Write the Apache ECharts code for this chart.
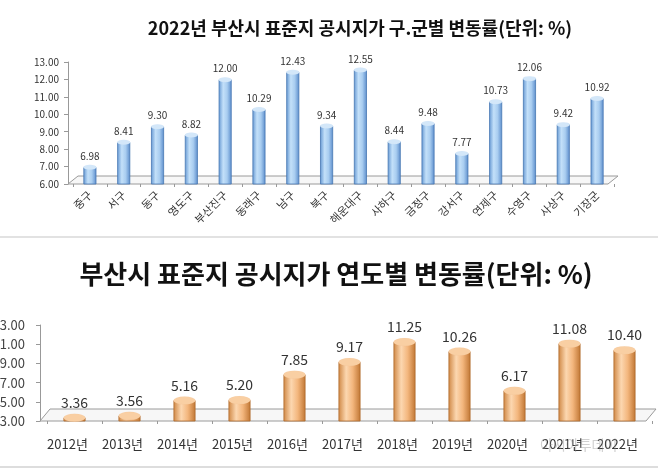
<!DOCTYPE html>
<html>
<head>
<meta charset="utf-8">
<script src="https://cdn.jsdelivr.net/npm/echarts@6/dist/echarts.min.js"></script>
<style>
  html, body { margin: 0; padding: 0; background: #fff; }
  #main { width: 658px; height: 470px; }
</style>
</head>
<body>
<div id="main"></div>
<script>
// 구.군별 변동률 (2022)
const districts = ['중구', '서구', '동구', '영도구', '부산진구', '동래구', '남구', '북구', '해운대구', '사하구', '금정구', '강서구', '연제구', '수영구', '사상구', '기장군'];
const districtRates = [6.98, 8.41, 9.30, 8.82, 12.00, 10.29, 12.43, 9.34, 12.55, 8.44, 9.48, 7.77, 10.73, 12.06, 9.42, 10.92];

// 연도별 변동률
const years = ['2012년', '2013년', '2014년', '2015년', '2016년', '2017년', '2018년', '2019년', '2020년', '2021년', '2022년'];
const yearRates = [3.36, 3.56, 5.16, 5.20, 7.85, 9.17, 11.25, 10.26, 6.17, 11.08, 10.40];

const FONT = 'Noto Sans CJK KR';

// grid boxes (px)
const g1 = { left: 73, top: 62, width: 541, height: 122 };
const g2 = { left: 47, top: 325, width: 605, height: 96 };

function cyl(c0, c1, c2, c3) {
  return new echarts.graphic.LinearGradient(0, 0, 1, 0, [
    { offset: 0, color: c0 },
    { offset: 0.35, color: c1 },
    { offset: 0.65, color: c2 },
    { offset: 1, color: c3 }
  ]);
}

// 3D floor outline under the bars
function floor(g, ox, dx, dy) {
  const x0 = g.left - ox, y0 = g.top + g.height;
  const x1 = g.left + g.width - 6;
  return {
    type: 'polyline',
    silent: true,
    z: 0,
    shape: { points: [[x0, y0], [x0 + dx, y0 - dy], [x1 + dx, y0 - dy], [x1, y0], [x0, y0]] },
    style: { stroke: '#9a9a9a', lineWidth: 1, fill: 'rgba(240,240,240,0.5)' }
  };
}

const chart = echarts.init(document.getElementById('main'));
chart.setOption({
  backgroundColor: '#fff',
  animation: false,
  textStyle: { fontFamily: FONT },
  title: [
    {
      text: '2022년 부산시 표준지 공시지가 구.군별 변동률(단위: %)',
      left: 355, top: 14, textAlign: 'center',
      textStyle: { fontSize: 18, fontWeight: 'bold', color: '#111', fontFamily: FONT }
    },
    {
      text: '부산시 표준지 공시지가 연도별 변동률(단위: %)',
      left: 331, top: 256, textAlign: 'center',
      textStyle: { fontSize: 26, fontWeight: 'bold', color: '#111', fontFamily: FONT }
    }
  ],
  grid: [
    Object.assign({ containLabel: false, outerBoundsMode: 'none' }, g1),
    Object.assign({ containLabel: false, outerBoundsMode: 'none' }, g2)
  ],
  xAxis: [
    {
      type: 'category', gridIndex: 0, data: districts,
      axisLine: { show: false },
      axisTick: { show: true, length: 3, lineStyle: { color: '#999' } },
      axisLabel: { rotate: 45, fontSize: 11, color: '#333', margin: 9, interval: 0 }
    },
    {
      type: 'category', gridIndex: 1, data: years,
      axisLine: { show: false },
      axisTick: { show: true, length: 3, lineStyle: { color: '#999' } },
      axisLabel: { fontSize: 13, color: '#333', margin: 17, interval: 0, padding: [0, 14, 0, 0] }
    }
  ],
  yAxis: [
    {
      type: 'value', gridIndex: 0, min: 6, max: 13, interval: 1, offset: 5,
      axisLine: { show: true, lineStyle: { color: '#999' } },
      axisTick: { show: true, length: 4, lineStyle: { color: '#999' } },
      splitLine: { show: false },
      axisLabel: { fontSize: 10, color: '#333', margin: 9, formatter: v => v.toFixed(2) }
    },
    {
      type: 'value', gridIndex: 1, min: 3, max: 13, interval: 2, offset: 7,
      axisLine: { show: true, lineStyle: { color: '#999' } },
      axisTick: { show: true, length: 4, lineStyle: { color: '#999' } },
      splitLine: { show: false },
      axisLabel: { fontSize: 13, color: '#444', margin: 15, formatter: v => v.toFixed(2) }
    }
  ],
  series: [
    {
      type: 'bar', xAxisIndex: 0, yAxisIndex: 0, data: districtRates, barWidth: 13, z: 3,
      itemStyle: { color: cyl('#6497d2', '#c3e0f9', '#a9cdf0', '#5a8ccb'), borderColor: '#4677b3', borderWidth: 0.8 },
      label: { show: true, position: 'top', distance: 6, fontSize: 10, color: '#333', formatter: p => p.value.toFixed(2) }
    },
    {
      type: 'pictorialBar', xAxisIndex: 0, yAxisIndex: 0, data: districtRates, z: 4,
      symbol: 'circle', symbolSize: [13, 5], symbolPosition: 'end', symbolOffset: [0, '-50%'],
      itemStyle: { color: '#d3e7f9', borderColor: '#4677b3', borderWidth: 0.8 }
    },
    {
      type: 'bar', xAxisIndex: 1, yAxisIndex: 1, data: yearRates, barWidth: 22, z: 3,
      itemStyle: { color: cyl('#cf8744', '#fcd7b0', '#f3b67d', '#c07633'), borderColor: '#b06a2c', borderWidth: 0.8 },
      label: { show: true, position: 'top', distance: 8, fontSize: 14, color: '#333', formatter: p => p.value.toFixed(2) }
    },
    {
      type: 'pictorialBar', xAxisIndex: 1, yAxisIndex: 1, data: yearRates, z: 4,
      symbol: 'circle', symbolSize: [22, 8], symbolPosition: 'end', symbolOffset: [0, '-50%'],
      itemStyle: { color: '#f9cfa3', borderColor: '#b06a2c', borderWidth: 0.8 }
    }
  ],
  graphic: [
    floor(g1, 5, 10, 8),
    floor(g2, 7, 10, 12),
    {
      type: 'line', silent: true,
      shape: { x1: 0, y1: 237, x2: 658, y2: 237 },
      style: { stroke: '#e2e2e2', lineWidth: 2 }
    },
    {
      type: 'line', silent: true,
      shape: { x1: 0, y1: 467, x2: 658, y2: 467 },
      style: { stroke: '#bbbbbb', lineWidth: 1 }
    },
    {
      type: 'text', silent: true, left: 540, top: 438, z: 10,
      style: { text: '아시아투데이', fontSize: 14, fill: 'rgba(150,150,150,0.45)', fontFamily: FONT }
    }
  ]
});
</script>
</body>
</html>
